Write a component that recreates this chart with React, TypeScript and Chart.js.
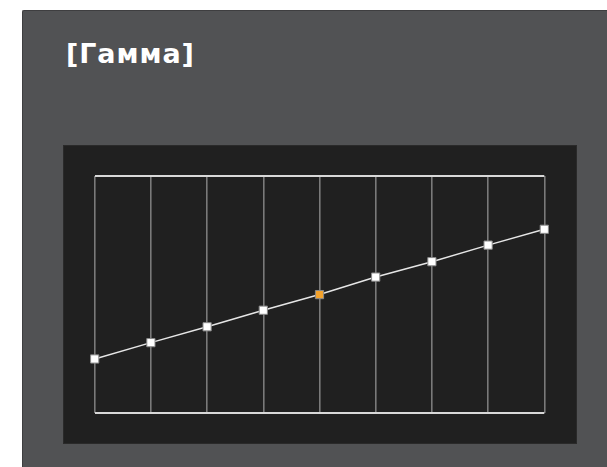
import React, { useEffect, useRef } from "react";
import { Chart, registerables } from "chart.js";

Chart.register(...registerables);

const titleText = "[Гамма]";
const xSteps = [0, 1, 2, 3, 4, 5, 6, 7, 8];
const gammaValues = [22.7, 29.6, 36.3, 43.3, 49.9, 57.3, 63.8, 70.8, 77.5];
const selectedIndex = 4;
const yMin = 0;
const yMax = 100;

export default function App() {
  const canvasRef = useRef<HTMLCanvasElement | null>(null);

  useEffect(() => {
    const canvas = canvasRef.current;
    if (!canvas) return;
    const pointColors = gammaValues.map((_, i) => (i === selectedIndex ? "#f3a22c" : "#ffffff"));
    const chart = new Chart(canvas, {
      type: "line",
      data: {
        datasets: [
          {
            data: xSteps.map((x, i) => ({ x, y: gammaValues[i] })),
            borderColor: "#e6e6e6",
            borderWidth: 1.5,
            pointStyle: "rect",
            pointRadius: 5.8,
            pointBackgroundColor: pointColors,
            pointBorderColor: "#8a8a8a",
            pointBorderWidth: 1,
            clip: false,
            tension: 0,
          } as any,
        ],
      },
      options: {
        responsive: false,
        animation: false,
        devicePixelRatio: 1,
        layout: { padding: { left: 31.7, right: 32.7, top: 31, bottom: 31.3 } },
        plugins: { legend: { display: false }, tooltip: { enabled: false }, title: { display: false } },
        events: [],
        scales: {
          x: {
            type: "linear",
            min: xSteps[0],
            max: xSteps[xSteps.length - 1],
            ticks: { display: false, stepSize: 1 },
            grid: { color: "#7a7a7a", lineWidth: 1.6, drawTicks: false },
            border: { display: false },
          },
          y: {
            type: "linear",
            min: yMin,
            max: yMax,
            ticks: { display: false, stepSize: yMax - yMin },
            grid: { color: "#d8d8d8", lineWidth: 2, drawTicks: false },
            border: { display: false },
          },
        },
      },
    });
    return () => chart.destroy();
  }, []);

  return (
    <div
      style={{
        position: "fixed",
        left: 0,
        top: 0,
        width: 607,
        height: 467,
        background: "#ffffff",
        overflow: "hidden",
      }}
    >
      <div
        style={{
          position: "absolute",
          left: 22,
          top: 10,
          right: 0,
          bottom: 0,
          background: "#515254",
          borderLeft: "1px solid #3e3e40",
          borderTop: "1px solid #3e3e40",
          borderTopLeftRadius: 2,
        }}
      />
      <div
        style={{
          position: "absolute",
          left: 66,
          top: 40,
          fontFamily: "'DejaVu Sans', sans-serif",
          fontWeight: "bold",
          fontSize: 27,
          lineHeight: "27px",
          letterSpacing: "0.9px",
          color: "#ffffff",
          whiteSpace: "nowrap",
        }}
      >
        {titleText}
      </div>
      <div
        style={{
          position: "absolute",
          left: 63,
          top: 145,
          width: 514,
          height: 299,
          background: "#202020",
          boxShadow: "inset 0 0 0 1px #2a2a2a",
        }}
      />
      <canvas
        ref={canvasRef}
        width={514}
        height={299}
        style={{ position: "absolute", left: 63, top: 145, width: 514, height: 299 }}
      />
    </div>
  );
}
